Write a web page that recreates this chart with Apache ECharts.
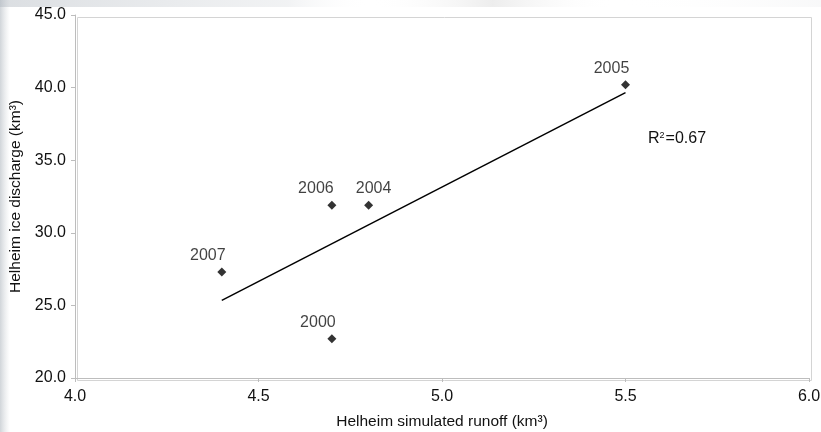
<!DOCTYPE html>
<html>
<head>
<meta charset="utf-8">
<script src="https://cdn.jsdelivr.net/npm/echarts@6/dist/echarts.min.js"></script>
<style>
  html, body { margin: 0; padding: 0; background: #fff; }
  #chart { width: 821px; height: 432px; }
</style>
</head>
<body>
<div id="chart"></div>
<script>
// Helheim glacier: simulated runoff vs. ice discharge, by year
const years = ['2000', '2004', '2005', '2006', '2007'];
const runoff = [4.7, 4.8, 5.5, 4.7, 4.4];          // km³
const discharge = [22.7, 31.9, 40.2, 31.9, 27.3];  // km³

// Linear fit endpoints (least squares over the years above)
const trendX = [4.4, 5.5];
const trendY = [25.35, 39.65];
const rSquared = '0.67';

const xTicks = { min: 4.0, max: 6.0, interval: 0.5 };
const yTicks = { min: 20.0, max: 45.0, interval: 5.0 };

// hand-placed year labels: horizontal nudge in px
const labelNudge = { '2000': -14, '2004': 5, '2005': -14, '2006': -16, '2007': -14 };

const font = 'Liberation Sans, Arial, sans-serif';
const fontSize = 15.5;
const tickFontSize = 16;
const textColor = '#111111';
const axisGrey = '#bdbdbd';

const chart = echarts.init(document.getElementById('chart'), null, { renderer: 'canvas' });

chart.setOption({
  backgroundColor: '#ffffff',
  animation: false,
  graphic: [
    // soft textured edges behind the chart
    {
      type: 'rect', left: 0, top: 0, z: -10,
      shape: { width: 10, height: 432 },
      style: {
        fill: new echarts.graphic.LinearGradient(0, 0, 1, 0, [
          { offset: 0, color: 'rgba(170,178,186,0.55)' },
          { offset: 1, color: 'rgba(200,205,210,0.0)' }
        ])
      }
    },
    {
      type: 'rect', left: 0, top: 0, z: -10,
      shape: { width: 821, height: 7 },
      style: {
        fill: new echarts.graphic.LinearGradient(0, 0, 1, 0, [
          { offset: 0, color: 'rgba(175,182,190,0.45)' },
          { offset: 0.35, color: 'rgba(200,205,210,0.25)' },
          { offset: 0.45, color: 'rgba(255,255,255,0)' },
          { offset: 0.6, color: 'rgba(195,195,195,0.3)' },
          { offset: 0.75, color: 'rgba(255,255,255,0)' },
          { offset: 1, color: 'rgba(220,222,225,0.2)' }
        ])
      }
    },
    // plot-area frame (top and right)
    {
      type: 'rect', left: 75, top: 15, z: 0, silent: true,
      shape: { width: 734, height: 363 },
      style: { fill: 'none', stroke: '#d4d4d4', lineWidth: 1 }
    },
    {
      type: 'text', left: 648, top: 131, z: 10,
      style: {
        text: '{b|R}{s|2}{b|=' + rSquared + '}',
        rich: {
          b: { font: tickFontSize + 'px ' + font, fill: textColor },
          s: { font: '9px ' + font, fill: textColor, verticalAlign: 'top', padding: [0, 1, 6, 0] }
        }
      }
    }
  ],
  grid: {
    left: 75, right: 12, top: 15, bottom: 54,
    containLabel: false,
    outerBoundsMode: 'none'
  },
  xAxis: {
    type: 'value',
    min: xTicks.min, max: xTicks.max, interval: xTicks.interval,
    name: 'Helheim simulated runoff (km³)',
    nameLocation: 'middle', nameGap: 36,
    nameTextStyle: { fontFamily: font, fontSize: fontSize, color: textColor },
    axisLine: { show: true, lineStyle: { color: axisGrey, width: 1 } },
    axisTick: { show: true, length: 4, lineStyle: { color: axisGrey } },
    splitLine: { show: false },
    axisLabel: {
      fontFamily: font, fontSize: tickFontSize, color: textColor, margin: 11,
      formatter: v => v.toFixed(1)
    }
  },
  yAxis: {
    type: 'value',
    min: yTicks.min, max: yTicks.max, interval: yTicks.interval,
    name: 'Helheim ice discharge (km³)',
    nameLocation: 'middle', nameGap: 50,
    nameTextStyle: { fontFamily: font, fontSize: fontSize, color: textColor },
    axisLine: { show: true, lineStyle: { color: axisGrey, width: 1 } },
    axisTick: { show: true, length: 4, lineStyle: { color: axisGrey } },
    splitLine: { show: false },
    axisLabel: {
      fontFamily: font, fontSize: tickFontSize, color: textColor, margin: 9,
      formatter: v => v.toFixed(1)
    }
  },
  series: [
    {
      type: 'line',
      data: trendX.map((x, i) => [x, trendY[i]]),
      showSymbol: false,
      symbol: 'none',
      lineStyle: { color: '#000', width: 1.5 },
      z: 2
    },
    {
      type: 'scatter',
      data: runoff.map((x, i) => ({
        value: [x, discharge[i]],
        name: years[i],
        label: { offset: [labelNudge[years[i]], 0] }
      })),
      symbol: 'diamond',
      symbolSize: 9,
      itemStyle: { color: '#000' },
      label: {
        show: true,
        position: 'top',
        distance: 4,
        formatter: p => p.name,
        fontFamily: font, fontSize: tickFontSize, color: textColor
      },
      z: 3
    }
  ]
});
</script>
</body>
</html>
